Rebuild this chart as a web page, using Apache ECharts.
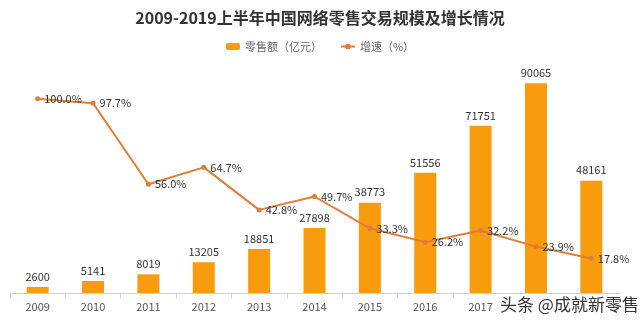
<!DOCTYPE html>
<html><head><meta charset="utf-8">
<script src="https://cdn.jsdelivr.net/npm/echarts@6/dist/echarts.min.js"></script>
<style>html,body{margin:0;padding:0;background:#fff}#c{width:640px;height:321px}</style>
</head><body><div id="c"></div>
<script>
const categories = ['2009','2010','2011','2012','2013','2014','2015','2016','2017','2018','2019H1'];
const retailValues = [2600, 5141, 8019, 13205, 18851, 27898, 38773, 51556, 71751, 90065, 48161];
const growthValues = [100.0, 97.7, 56.0, 64.7, 42.8, 49.7, 33.3, 26.2, 32.2, 23.9, 17.8];

const chart = echarts.init(document.getElementById('c'), null, {renderer:'canvas'});
const font = '"Noto Sans CJK SC", "Noto Sans", sans-serif';
chart.setOption({
  backgroundColor: '#fff',
  textStyle: {fontFamily: font},
  title: {
    text: '2009-2019上半年中国网络零售交易规模及增长情况',
    left: 'center', top: 5,
    textStyle: {fontSize: 16, fontWeight: 'bold', color: '#333', fontFamily: font}
  },
  legend: {
    top: 36, left: 'center', itemGap: 18, itemWidth: 14, itemHeight: 7,
    textStyle: {fontSize: 11, color: '#666', fontFamily: font},
    data: ['零售额（亿元）', '增速（%）']
  },
  grid: {left: 10, right: 21, top: 60, bottom: 28},
  xAxis: {
    type: 'category', data: categories,
    axisLine: {lineStyle: {color: '#d0d0d0'}},
    axisTick: {show: true, lineStyle: {color: '#d0d0d0'}},
    axisLabel: {color: '#555', fontSize: 11, margin: 8, fontFamily: font}
  },
  yAxis: [
    {type: 'value', min: 0, max: 100000, show: false, splitLine: {show: false}},
    {type: 'value', min: 0, max: 120, show: false, splitLine: {show: false}}
  ],
  series: [
    {
      name: '零售额（亿元）', type: 'bar', data: retailValues, barWidth: 22,
      itemStyle: {color: '#F89C0E'},
      label: {show: true, position: 'top', color: '#333', fontSize: 11, distance: 5, fontFamily: font}
    },
    {
      name: '增速（%）', type: 'line', yAxisIndex: 1, data: growthValues,
      symbol: 'circle', symbolSize: 5,
      lineStyle: {color: '#E07C35', width: 2},
      itemStyle: {color: '#E07C35'},
      label: {show: true, position: 'right', distance: 4, color: '#333', fontSize: 11,
        fontFamily: font, formatter: p => p.value.toFixed(1) + '%'}
    }
  ],
  graphic: [
    {type: 'text', left: 496, top: 294, z: 100,
     style: {text: '头条 @成就新零售', fontSize: 17, fill: '#333', stroke: '#fff', lineWidth: 3,
       backgroundColor: '#fff', padding: [2, 4, 2, 4], fontFamily: font}}
  ]
});
</script></body></html>
